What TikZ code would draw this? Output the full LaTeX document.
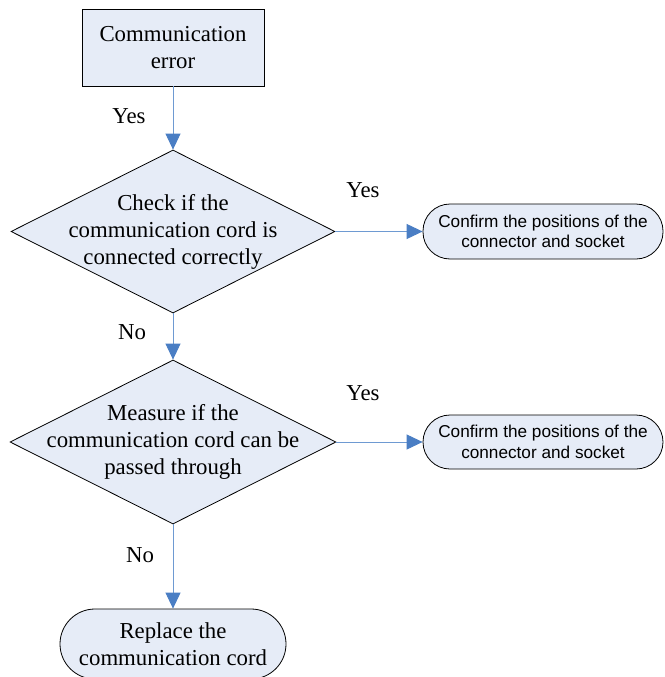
\documentclass[tikz,border=0pt]{standalone}
\usepackage{fontspec}
\setmainfont{Liberation Serif}
\newfontfamily\arialfont{Liberation Sans}
\usetikzlibrary{shapes.geometric,arrows.meta}
\definecolor{boxfill}{HTML}{E6ECF7}
\definecolor{lineblue}{HTML}{6E9AD2}
\definecolor{tipblue}{HTML}{4A7EC4}
\begin{document}
\begin{tikzpicture}[x=1pt,y=-1pt,
  serif/.style={font=\fontsize{22.8}{27}\selectfont, align=center},
  sans/.style={font=\arialfont\fontsize{17.2}{20.5}\selectfont, align=center},
  procbox/.style={draw=black, line width=0.8pt, fill=boxfill, rectangle, inner sep=0pt},
  decbox/.style={draw=black, line width=0.8pt, fill=boxfill, diamond, inner sep=0pt},
  termbox/.style={draw=black, line width=0.8pt, fill=boxfill, rectangle, inner sep=0pt},
  flow/.style={draw=lineblue, line width=1pt, -{Triangle[length=16pt,width=15pt,color=tipblue]}},
  lbl/.style={font=\fontsize{22.8}{27}\selectfont, inner sep=0pt}
]
\useasboundingbox (0,0) rectangle (664,677);
% shapes
\node[procbox, minimum width=182pt, minimum height=77pt] (err) at (173,47.5) {};
\node[serif] (errt) at (173,47.5) {Communication\\error};
\node[decbox, minimum width=324pt, minimum height=163pt] (d1) at (173,231.5) {};
\node[serif] (d1t) at (173,231.5) {Check if the\\communication cord is\\connected correctly};
\node[decbox, minimum width=326pt, minimum height=164pt] (d2) at (173,442) {};
\node[serif] (d2t) at (173,441.5) {Measure if the\\communication cord can be\\passed through};
\node[termbox, minimum width=240pt, minimum height=55pt, rounded corners=27pt] (c1) at (543,231.5) {};
\node[sans] (c1t) at (543,231.5) {Confirm the positions of the\\connector and socket};
\node[termbox, minimum width=240pt, minimum height=54pt, rounded corners=27pt] (c2) at (543,442) {};
\node[sans] (c2t) at (543,442) {Confirm the positions of the\\connector and socket};
\node[termbox, minimum width=226pt, minimum height=70pt, rounded corners=35pt] (rep) at (173,644) {};
\node[serif] (rept) at (173,644) {Replace the\\communication cord};
% connectors
\draw[flow] (err.south) -- (d1.north);
\draw[flow] (d1.east) -- (c1.west);
\draw[flow] (d1.south) -- (d2.north);
\draw[flow] (d2.east) -- (c2.west);
\draw[flow] (d2.south) -- (rep.north);
% labels
\node[lbl] (y1) at (129,116) {Yes};
\node[lbl] (y2) at (363,190) {Yes};
\node[lbl] (n1) at (132,332) {No};
\node[lbl] (y3) at (363,393) {Yes};
\node[lbl] (n2) at (140,555) {No};
\end{tikzpicture}
\end{document}
